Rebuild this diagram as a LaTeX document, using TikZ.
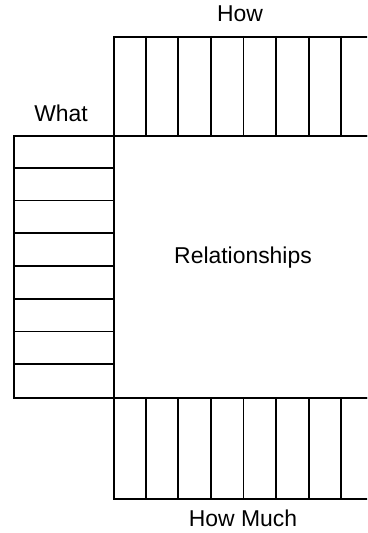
\documentclass[tikz,border=0pt]{standalone}
\usepackage{fontspec}
\setmainfont{Liberation Sans}
\usetikzlibrary{positioning}

\begin{document}
\begin{tikzpicture}[
  x=1bp, y=-1bp,
  grid/.style={line width=1.8bp, black},
  block/.style={rectangle, draw, grid, inner sep=0pt, anchor=north west},
  lbl/.style={anchor=base, inner sep=0pt, font=\fontsize{23}{27}\selectfont},
]
\useasboundingbox (0,0) rectangle (367,533);
\clip (0,0) rectangle (367,533);

% Blocks (the right side runs off the page)
\node[block, minimum width=268bp, minimum height=99bp] (how) at (113,36) {};
\node[block, minimum width=100bp, minimum height=262bp] (what) at (13,135) {};
\node[block, minimum width=268bp, minimum height=262bp] (rel) at (113,135) {};
\node[block, minimum width=268bp, minimum height=101bp] (much) at (113,397) {};

% Columns and rows
\foreach \i in {1,...,7} {
  \draw[grid] ([xshift=\i*32.6bp]how.north west) -- ([xshift=\i*32.6bp]how.south west);
  \draw[grid] ([xshift=\i*32.6bp]much.north west) -- ([xshift=\i*32.6bp]much.south west);
  \draw[grid] ([yshift=-\i*32.75bp]what.north west) -- ([yshift=-\i*32.75bp]what.north east);
}

% Labels
\node[lbl] (howlbl) at (240,21.7) {How};
\node[lbl] (whatlbl) at (61,121.7) {What};
\node[lbl] (rellbl) at (243,263.3) {Relationships};
\node[lbl] (muchlbl) at (243,526.7) {How Much};

\end{tikzpicture}
\end{document}
